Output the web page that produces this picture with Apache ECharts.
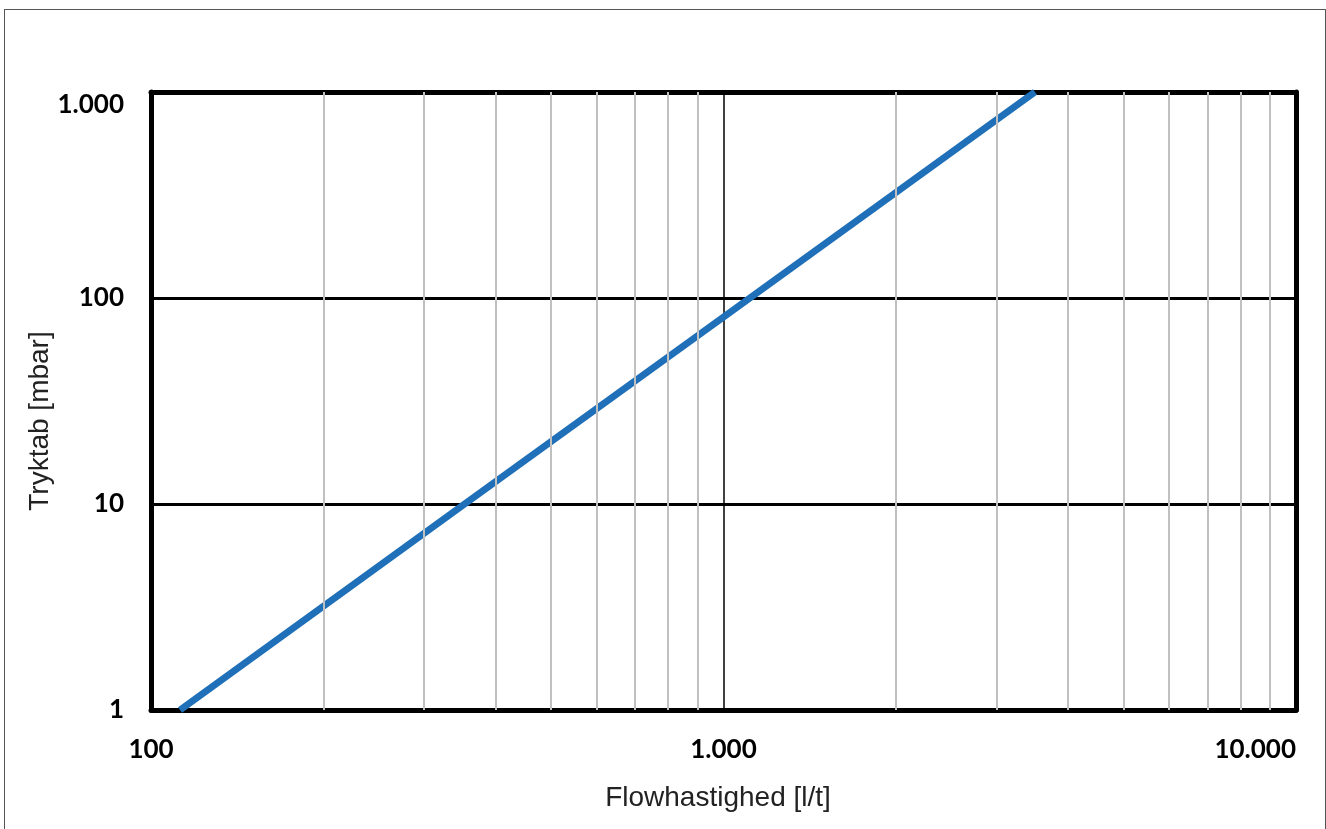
<!DOCTYPE html>
<html>
<head>
<meta charset="utf-8">
<script src="https://cdn.jsdelivr.net/npm/echarts@6/dist/echarts.min.js"></script>
<style>
  html, body { margin: 0; padding: 0; background: #fff; }
  #chart { position: absolute; left: 0; top: 0; width: 1326px; height: 829px; }
  #frame { position: absolute; left: 4px; top: 9px; width: 1320px; height: 840px; border: 1px solid #555; pointer-events: none; }
</style>
</head>
<body>
<div id="chart"></div>
<div id="frame"></div>
<script>
// flow [l/t] vs pressure drop [mbar], log-log
const flow = [112.4, 353, 1112, 3500];
const pressure = [1, 10, 100, 1000];
const minorFlow = [200, 300, 400, 500, 600, 700, 800, 900, 2000, 3000, 4000, 5000, 6000, 7000, 8000, 9000];

// dansk tusindtalsseparator
function fmt(v) {
  return String(Math.round(v)).replace(/\B(?=(\d{3})+(?!\d))/g, '.');
}

const labelFont = { color: '#000', fontWeight: 'bold', fontSize: 26, fontFamily: 'Lato' };
const nameFont = '28px "Liberation Sans", Arial, sans-serif';

const option = {
  animation: false,
  grid: { left: 151, top: 92, right: 30, bottom: 119, show: false },
  xAxis: [{
    type: 'log', logBase: 10, min: 100, max: 10000, z: 2,
    axisLine: { show: true, lineStyle: { color: '#000', width: 5 } },
    axisTick: { show: false },
    axisLabel: Object.assign({ margin: 27, formatter: fmt, alignMaxLabel: 'right' }, labelFont),
    splitLine: { show: true, lineStyle: { color: '#000', width: 1.5 } },
    minorSplitLine: { show: false }
  }, {
    type: 'log', logBase: 10, min: 100, max: 10000, position: 'top', z: 2,
    axisLine: { show: true, lineStyle: { color: '#000', width: 5 } },
    axisTick: { show: false }, axisLabel: { show: false }, splitLine: { show: false }
  }],
  yAxis: [{
    type: 'log', logBase: 10, min: 1, max: 1000, z: 2,
    axisLine: { show: true, lineStyle: { color: '#000', width: 5 } },
    axisTick: { show: false },
    axisLabel: Object.assign({ margin: 27, formatter: fmt, verticalAlignMaxLabel: 'top' }, labelFont),
    splitLine: { show: true, lineStyle: { color: '#000', width: 3 } }
  }, {
    type: 'log', logBase: 10, min: 1, max: 1000, position: 'right', z: 2,
    axisLine: { show: true, lineStyle: { color: '#000', width: 5 } },
    axisTick: { show: false }, axisLabel: { show: false }, splitLine: { show: false }
  }],
  graphic: [{
    type: 'text', x: 718, y: 798, z: 10,
    style: { text: 'Flowhastighed [l/t]', font: nameFont, fill: '#222', align: 'center', verticalAlign: 'middle' }
  }, {
    type: 'text', x: 40, y: 421, rotation: Math.PI / 2, z: 10,
    style: { text: 'Tryktab [mbar]', font: nameFont, fill: '#222', align: 'center', verticalAlign: 'middle' }
  }],
  series: [{
    // mindre gitterlinjer på x-aksen
    type: 'line', data: [], z: 1, silent: true,
    markLine: {
      silent: true, symbol: 'none', label: { show: false },
      lineStyle: { color: '#c0c0c0', width: 2, type: 'solid' },
      data: minorFlow.map(v => ({ xAxis: v }))
    }
  }, {
    type: 'line', z: 3, showSymbol: false, symbol: 'none',
    data: flow.map((f, i) => [f, pressure[i]]),
    lineStyle: { color: '#1f70b8', width: 7, cap: 'butt' }
  }]
};

const myChart = echarts.init(document.getElementById('chart'));
myChart.setOption(option);
</script>
</body>
</html>
